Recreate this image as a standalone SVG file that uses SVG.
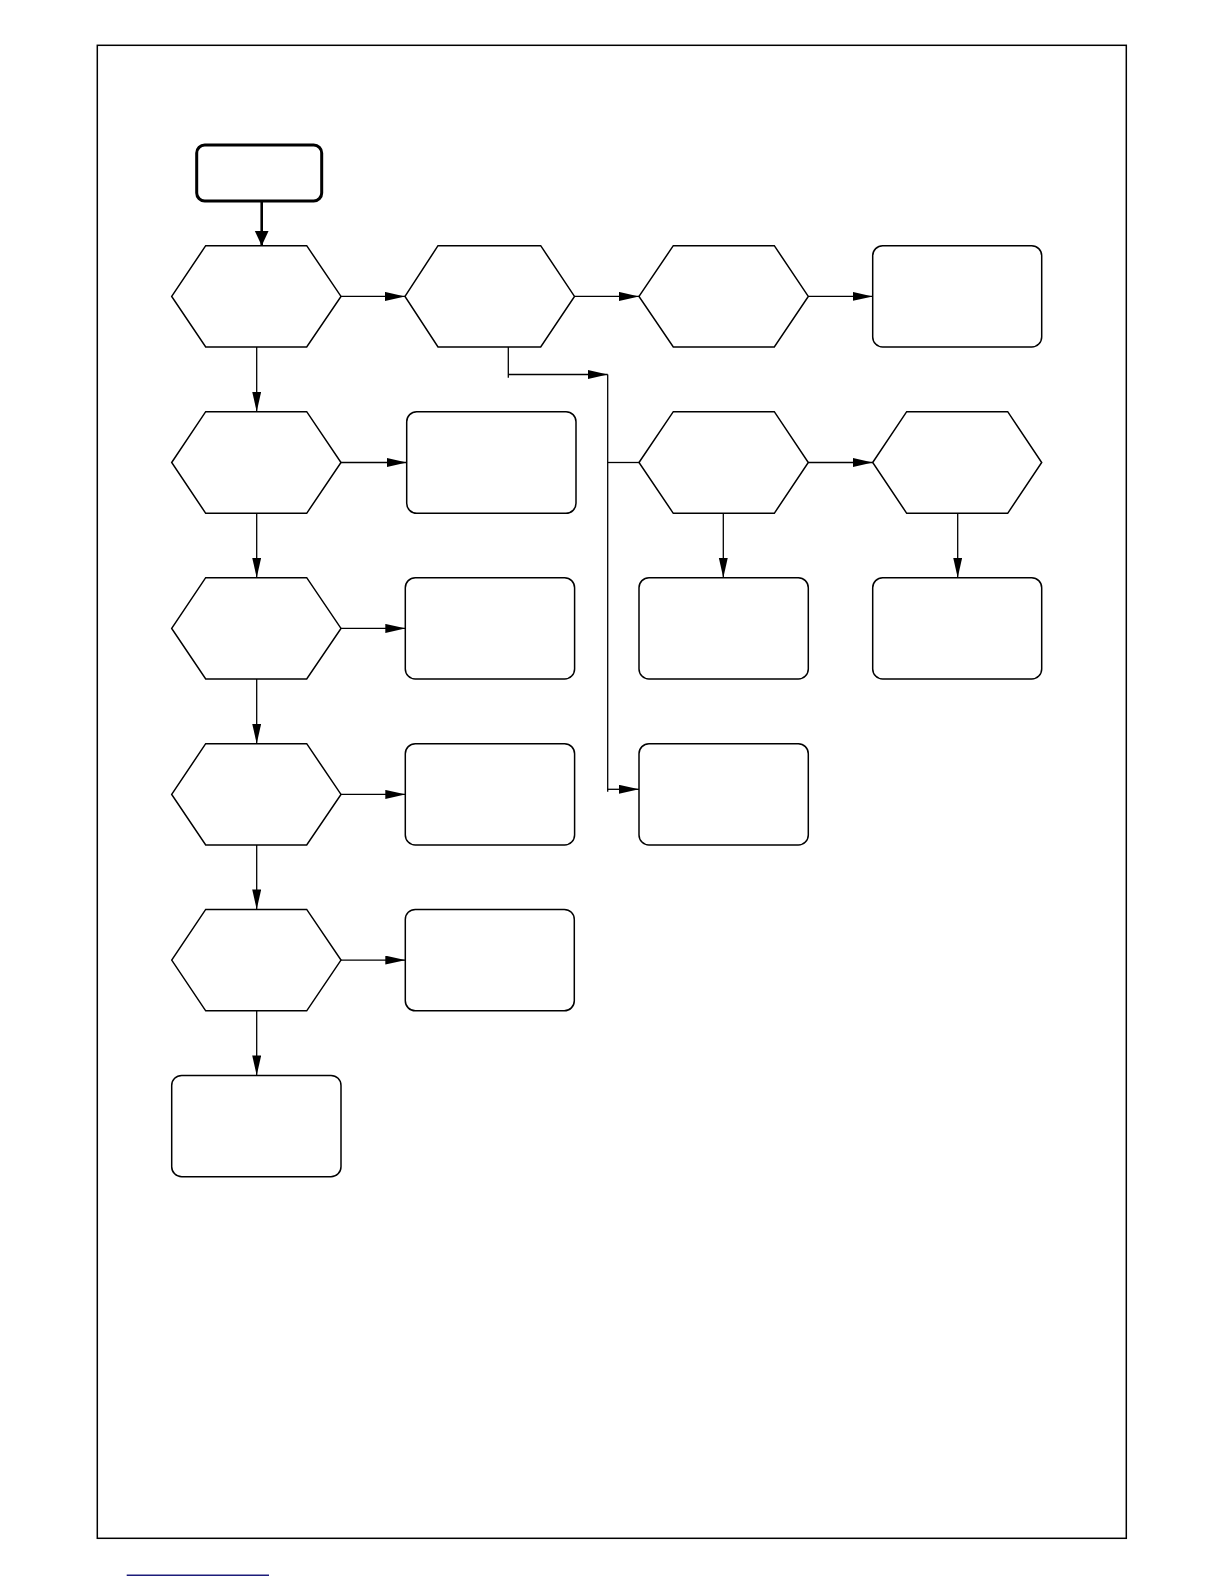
<svg xmlns="http://www.w3.org/2000/svg" width="1224" height="1584" viewBox="0 0 1224 1584">
<style>
.hex{fill:#fff;stroke:#000;stroke-width:1.5;stroke-linejoin:miter}
.box{fill:#fff;stroke:#000;stroke-width:1.5}
.start{fill:#fff;stroke:#000;stroke-width:3}
.ln{fill:none;stroke:#000;stroke-width:1.3}
.bold{fill:none;stroke:#000;stroke-width:2.6}
</style>
<defs>
<marker id="ah" markerUnits="userSpaceOnUse" markerWidth="20" markerHeight="10" refX="20" refY="4.5" orient="auto">
<path d="M0,0 L20,4.5 L0,9 z" fill="#000"/>
</marker>
<marker id="ahb" markerUnits="userSpaceOnUse" markerWidth="15" markerHeight="15" refX="15" refY="7" orient="auto">
<path d="M0,0 L15,7 L0,14 z" fill="#000"/>
</marker>
</defs>
<rect width="1224" height="1584" fill="#fff"/>
<rect id="frame" x="97.3" y="45.3" width="1029" height="1493" fill="none" stroke="#000" stroke-width="1.5"/>
<line id="footer-line" x1="126.7" y1="1575.3" x2="269" y2="1575.3" stroke="#1c1c7a" stroke-width="1.5"/>

<g id="start"><rect class="start" x="196.7" y="145" width="125" height="56" rx="8"/></g>

<g id="hex-r1c1"><polygon class="hex" points="171.7,296.4 205.7,245.7 306.7,245.7 341,296.4 306.7,347 205.7,347"/></g>
<g id="hex-r1c2"><polygon class="hex" points="405,296.4 438,245.7 540.7,245.7 574.5,296.4 540.7,347 438,347"/></g>
<g id="hex-r1c3"><polygon class="hex" points="639,296.4 673.3,245.7 774.3,245.7 808.3,296.4 774.3,347 673.3,347"/></g>
<g id="box-r1c4"><rect class="box" x="872.7" y="245.7" width="169" height="101.3" rx="10"/></g>

<g id="hex-r2c1"><polygon class="hex" points="171.7,462.5 205.7,411.7 306.7,411.7 341,462.5 306.7,513.3 205.7,513.3"/></g>
<g id="box-r2c2"><rect class="box" x="406.7" y="411.7" width="169.3" height="101.6" rx="10"/></g>
<g id="hex-r2c3"><polygon class="hex" points="639,462.5 673.3,411.7 774.3,411.7 808.3,462.5 774.3,513.3 673.3,513.3"/></g>
<g id="hex-r2c4"><polygon class="hex" points="872.7,462.5 906.7,411.7 1007.7,411.7 1041.7,462.5 1007.7,513.3 906.7,513.3"/></g>

<g id="hex-r3c1"><polygon class="hex" points="171.7,628.4 205.7,577.7 306.7,577.7 341,628.4 306.7,679 205.7,679"/></g>
<g id="box-r3c2"><rect class="box" x="405.3" y="577.7" width="169.3" height="101.3" rx="10"/></g>
<g id="box-r3c3"><rect class="box" x="639" y="577.7" width="169.3" height="101.3" rx="10"/></g>
<g id="box-r3c4"><rect class="box" x="872.7" y="577.7" width="169" height="101.3" rx="10"/></g>

<g id="hex-r4c1"><polygon class="hex" points="171.7,794.4 205.7,743.7 306.7,743.7 341,794.4 306.7,845 205.7,845"/></g>
<g id="box-r4c2"><rect class="box" x="405.3" y="743.7" width="169.3" height="101.3" rx="10"/></g>
<g id="box-r4c3"><rect class="box" x="639" y="743.7" width="169.3" height="101.3" rx="10"/></g>

<g id="hex-r5c1"><polygon class="hex" points="171.7,960.1 205.7,909.4 306.7,909.4 341,960.1 306.7,1010.8 205.7,1010.8"/></g>
<g id="box-r5c2"><rect class="box" x="405.3" y="909.4" width="169" height="101.4" rx="10"/></g>

<g id="box-r6c1"><rect class="box" x="171.7" y="1075.4" width="169.3" height="101.3" rx="10"/></g>

<g id="connectors">
<path class="bold" d="M261.7,201 V245.7" marker-end="url(#ahb)"/>
<path class="ln" d="M256.7,347 V411.7" marker-end="url(#ah)"/>
<path class="ln" d="M256.7,513.3 V577.7" marker-end="url(#ah)"/>
<path class="ln" d="M256.7,679 V743.7" marker-end="url(#ah)"/>
<path class="ln" d="M256.7,845 V909.4" marker-end="url(#ah)"/>
<path class="ln" d="M256.7,1010.8 V1075.4" marker-end="url(#ah)"/>
<path class="ln" d="M341,296.4 H405" marker-end="url(#ah)"/>
<path class="ln" d="M574.5,296.4 H639" marker-end="url(#ah)"/>
<path class="ln" d="M808.3,296.4 H872.7" marker-end="url(#ah)"/>
<path class="ln" d="M341,462.5 H406.7" marker-end="url(#ah)"/>
<path class="ln" d="M341,628.4 H405.3" marker-end="url(#ah)"/>
<path class="ln" d="M341,794.4 H405.3" marker-end="url(#ah)"/>
<path class="ln" d="M341,960.1 H405.3" marker-end="url(#ah)"/>
<path class="ln" d="M808.3,462.5 H872.7" marker-end="url(#ah)"/>
<path class="ln" d="M723.3,513.3 V577.7" marker-end="url(#ah)"/>
<path class="ln" d="M957.7,513.3 V577.7" marker-end="url(#ah)"/>
<path class="ln" d="M508.3,347 V377.7"/>
<path class="ln" d="M508.3,374.5 H607.7" marker-end="url(#ah)"/>
<path class="ln" d="M607.7,374.5 V791.7"/>
<path class="ln" d="M607.7,462.5 H639"/>
<path class="ln" d="M607.7,789.3 H639" marker-end="url(#ah)"/>
</g>
</svg>
